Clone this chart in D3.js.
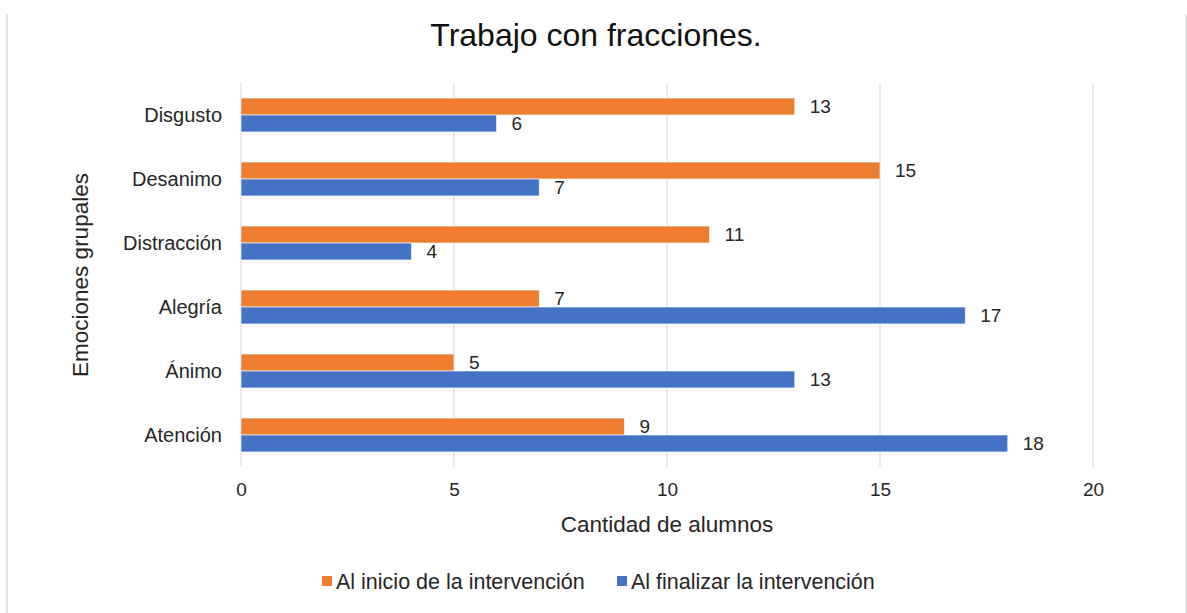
<!DOCTYPE html>
<html>
<head>
<meta charset="utf-8">
<style>
  body { margin: 0; background: #fff; }
  svg text { font-family: "Liberation Sans", Arial, sans-serif; fill: #262626; }
  .title { font-size: 32px; fill: #111; }
  .cat { font-size: 20px; }
  .tick text { font-size: 19px; font-family: "Liberation Sans", Arial, sans-serif; fill: #262626; }
  .val { font-size: 19px; }
  .axtitle { font-size: 22.5px; }
  .legend text { font-size: 21.5px; }
</style>
<script src="https://d3js.org/d3.v7.min.js"></script>
</head>
<body>
<svg width="1187" height="613"></svg>
<script>
var categories = ["Disgusto", "Desanimo", "Distracción", "Alegría", "Ánimo", "Atención"];
var seriesNames = ["Al inicio de la intervención", "Al finalizar la intervención"];
var inicio = [13, 15, 11, 7, 5, 9];
var finalizar = [6, 7, 4, 17, 13, 18];
var xTicks = [0, 5, 10, 15, 20];
var colors = ["#ED7D31", "#4472C4"];

var svg = d3.select("svg");
var plotLeft = 241, plotRight = 1093, plotTop = 83, plotBottom = 467;

// chart border (only sides visible)
svg.append("line").attr("x1", 7).attr("x2", 7).attr("y1", 14).attr("y2", 613)
  .attr("stroke", "#d9d9d9").attr("stroke-width", 1.5);
svg.append("line").attr("x1", 1186).attr("x2", 1186).attr("y1", 14).attr("y2", 613)
  .attr("stroke", "#d9d9d9").attr("stroke-width", 1.5);

var x = d3.scaleLinear().domain([0, 20]).range([plotLeft, plotRight]);
var y = d3.scaleBand().domain(categories).range([plotTop, plotBottom])
  .paddingInner(0.47).paddingOuter(0.235);
var ySub = d3.scaleBand().domain([0, 1]).range([0, y.bandwidth()]);

// gridlines
svg.append("g").selectAll("line").data(xTicks).enter().append("line")
  .attr("x1", function(d) { return x(d); })
  .attr("x2", function(d) { return x(d); })
  .attr("y1", plotTop).attr("y2", plotBottom)
  .attr("stroke", "#d9d9d9").attr("stroke-width", 1);

// x axis tick labels
var xAxis = svg.append("g")
  .attr("transform", "translate(0," + (plotBottom + 10) + ")")
  .call(d3.axisBottom(x).tickValues(xTicks).tickSize(0).tickPadding(6));
xAxis.select(".domain").remove();
xAxis.attr("font-size", null).attr("font-family", null);

// category labels
svg.append("g").selectAll("text").data(categories).enter().append("text")
  .attr("class", "cat")
  .attr("x", plotLeft - 19)
  .attr("y", function(d) { return y(d) + y.bandwidth() / 2; })
  .attr("dy", "0.35em")
  .attr("text-anchor", "end")
  .text(function(d) { return d; });

var series = [inicio, finalizar];
series.forEach(function(vals, s) {
  var g = svg.append("g");
  g.selectAll("rect").data(vals).enter().append("rect")
    .attr("x", x(0))
    .attr("y", function(d, i) { return y(categories[i]) + ySub(s); })
    .attr("width", function(d) { return x(d) - x(0); })
    .attr("height", ySub.bandwidth())
    .attr("fill", colors[s])
    .attr("stroke", "#fff").attr("stroke-width", 0.6);
  g.selectAll("text").data(vals).enter().append("text")
    .attr("class", "val")
    .attr("x", function(d) { return x(d) + 15; })
    .attr("y", function(d, i) { return y(categories[i]) + ySub(s) + ySub.bandwidth() / 2; })
    .attr("dy", "0.35em")
    .text(function(d) { return d; });
});

// titles
svg.append("text").attr("class", "title")
  .attr("x", 596).attr("y", 46).attr("text-anchor", "middle")
  .text("Trabajo con fracciones.");

svg.append("text").attr("class", "axtitle")
  .attr("x", 667).attr("y", 532).attr("text-anchor", "middle")
  .text("Cantidad de alumnos");

svg.append("text").attr("class", "axtitle")
  .attr("transform", "translate(88,275) rotate(-90)")
  .attr("text-anchor", "middle")
  .text("Emociones grupales");

// legend
var legendX = [322, 617];
var legend = svg.selectAll(".legend").data(seriesNames).enter().append("g")
  .attr("class", "legend")
  .attr("transform", function(d, i) { return "translate(" + legendX[i] + ",581)"; });
legend.append("rect")
  .attr("x", 0).attr("y", -5).attr("width", 10).attr("height", 10)
  .attr("fill", function(d, i) { return colors[i]; });
legend.append("text")
  .attr("x", 14).attr("dy", "0.35em")
  .text(function(d) { return d; });
</script>
</body>
</html>
